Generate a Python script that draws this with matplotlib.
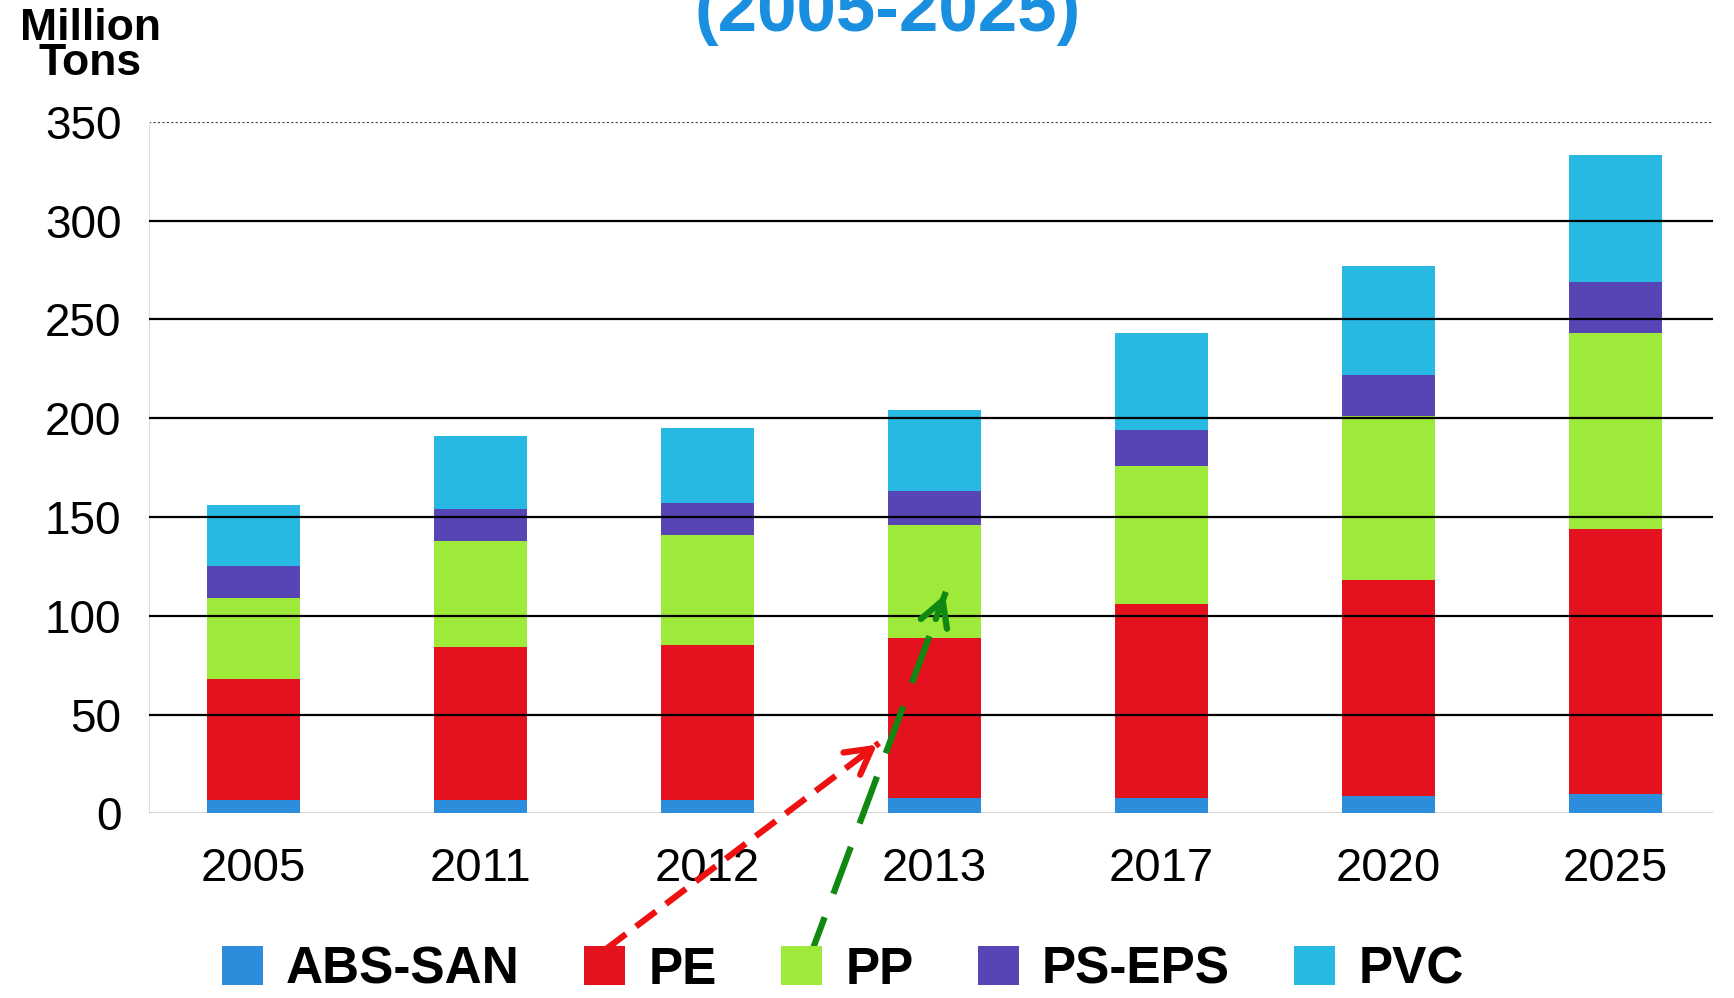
import matplotlib.pyplot as plt
from matplotlib.lines import Line2D
from matplotlib.patches import FancyArrowPatch
import numpy as np

# values (million tons)
years = ["2005", "2011", "2012", "2013", "2017", "2020", "2025"]
abs_san = [7, 7, 7, 8, 8, 9, 10]
pe = [61, 77, 78, 81, 98, 109, 134]
pp = [41, 54, 56, 57, 70, 83, 99]
ps_eps = [16, 16, 16, 17, 18, 21, 26]
pvc = [31, 37, 38, 41, 49, 55, 64]

series = ["ABS-SAN", "PE", "PP", "PS-EPS", "PVC"]
colors = ["#2b8ddb", "#e3121e", "#9eea3a", "#5845b5", "#27b9e2"]
yticks = [0, 50, 100, 150, 200, 250, 300, 350]

plt.rcParams['font.family'] = ['Liberation Sans', 'DejaVu Sans']

fig = plt.figure(figsize=(17.34, 9.98), dpi=100)
ax = fig.add_axes([0.086, 0.185, 0.902, 0.693])

x = np.arange(len(years))
bottom = np.zeros(len(years))
for name, vals, c in zip(series, [abs_san, pe, pp, ps_eps, pvc], colors):
    ax.bar(x, vals, width=0.41, bottom=bottom, color=c, label=name, zorder=2)
    bottom += np.array(vals)

# black grid lines drawn over the bars
for v in yticks[1:-1]:
    ax.axhline(v, color="black", lw=1.6, zorder=3)
ax.axhline(350, color="#444444", lw=1.6, ls=(0, (1, 1)), zorder=1)
ax.axhline(0, color="#cccccc", lw=1.2, zorder=1)

ax.set_xlim(-0.46, 6.43)
ax.set_ylim(0, 350)
ax.set_xticks(x)
ax.set_xticklabels(years, fontsize=34)
ax.set_yticks(yticks)
ax.set_yticklabels([str(v) for v in yticks], fontsize=33)
ax.tick_params(axis="x", length=0, pad=24)
ax.tick_params(axis="y", length=0, pad=20)
for s in ["top", "right", "bottom"]:
    ax.spines[s].set_visible(False)
ax.spines["left"].set_color("#dddddd")

fig.text(0.052, 0.992, "Million\nTons", ha="center", va="top", fontsize=32,
         fontweight="bold", linespacing=0.8)
fig.text(0.512, 0.969, "(2005-2025)", ha="center", va="baseline", fontsize=51,
         fontweight="bold", color="#1a8fe0")

fig.legend(loc="center", bbox_to_anchor=(0.486, 0.028), ncol=5, frameon=False,
           prop={"size": 37, "weight": "bold"}, handlelength=0.8,
           handleheight=0.8, handletextpad=0.45, columnspacing=1.25)

# hand-drawn arrows
def dashed_arrow(start, end, color, dashes, lw, head):
    fig.add_artist(Line2D([start[0], end[0]], [start[1], end[1]],
                          transform=fig.transFigure, color=color, lw=lw,
                          dashes=dashes))
    d = np.array(end) - np.array(start)
    tail = np.array(end) - 0.08 * d
    fig.add_artist(FancyArrowPatch(
        tail, end, transform=fig.transFigure,
        arrowstyle="->,head_length=%d,head_width=%d" % head,
        color=color, lw=lw, mutation_scale=1))

dashed_arrow((0.3495, 0.049), (0.507, 0.2555), "#ee1111", (4, 2), 4.5, (18, 10))
dashed_arrow((0.4655, 0.034), (0.5455, 0.407), "#118811", (8, 4), 4.5, (18, 10))

fig.savefig("out.png", dpi=100)
